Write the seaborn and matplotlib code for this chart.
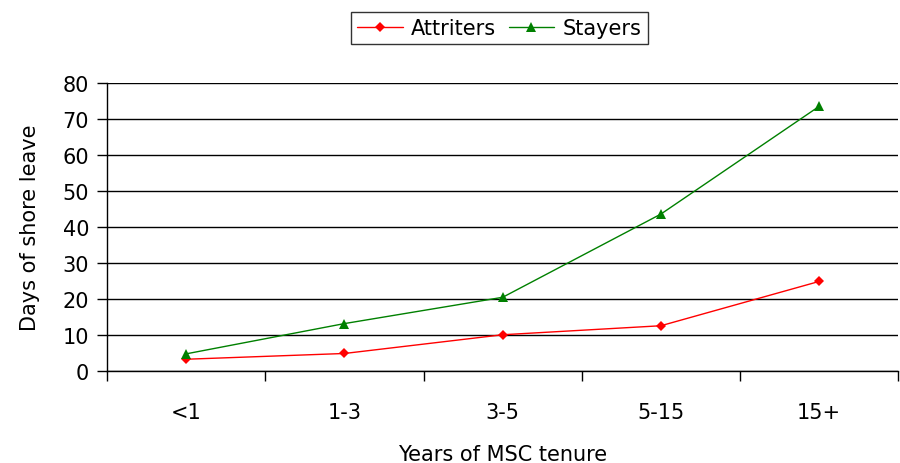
import matplotlib.pyplot as plt
import pandas as pd
import seaborn as sns
from matplotlib.ticker import FixedLocator

tenure = ["<1", "1-3", "3-5", "5-15", "15+"]
attriters = [3.3, 4.9, 10.1, 12.6, 24.9]
stayers = [4.8, 13.2, 20.5, 43.6, 73.5]


def main():
    data = pd.DataFrame(
        {
            "tenure": tenure * 2,
            "days": attriters + stayers,
            "group": ["Attriters"] * len(tenure) + ["Stayers"] * len(tenure),
        }
    )
    data["pos"] = data["tenure"].apply(lambda t: tenure.index(t))

    sns.set_style("white")
    plt.rcParams["font.family"] = ["DejaVu Sans"]
    plt.rcParams["text.color"] = "black"
    plt.rcParams["axes.labelcolor"] = "black"
    plt.rcParams["xtick.color"] = "black"
    plt.rcParams["ytick.color"] = "black"

    fig = plt.figure(figsize=(9, 4.64), dpi=100)
    ax = fig.add_axes([0.119, 0.198, 0.879, 0.621])

    ax.yaxis.grid(True, color="black", linewidth=1)
    ax.set_axisbelow(True)

    sns.lineplot(
        data,
        x="pos",
        y="days",
        hue="group",
        style="group",
        markers={"Attriters": "D", "Stayers": "^"},
        dashes=False,
        palette={"Attriters": "#ff0000", "Stayers": "#008000"},
        markersize=6,
        markeredgewidth=0,
        linewidth=1,
        ax=ax,
    )
    # triangles a bit bigger than diamonds
    for line in ax.lines:
        if line.get_marker() == "^":
            line.set_markersize(7.5)
        elif line.get_marker() == "D":
            line.set_markersize(5.5)

    ax.set_xlim(-0.5, 4.5)
    ax.set_ylim(0, 80)
    ax.set_yticks(range(0, 81, 10))
    ax.set_xticks(range(len(tenure)))
    ax.set_xticklabels(tenure)
    ax.xaxis.set_minor_locator(FixedLocator([i + 0.5 for i in range(-1, len(tenure))]))
    ax.tick_params(axis="x", which="major", length=0, pad=22, labelsize=15, bottom=True)
    ax.tick_params(axis="x", which="minor", length=7, width=1, direction="out", bottom=True)
    ax.tick_params(axis="y", length=7, width=1, direction="out", labelsize=15, left=True, pad=6)

    for side in ["top", "right"]:
        ax.spines[side].set_visible(False)
    for side in ["left", "bottom"]:
        ax.spines[side].set_color("black")
        ax.spines[side].set_linewidth(1)

    ax.set_xlabel("Years of MSC tenure", fontsize=15, labelpad=16)
    ax.set_ylabel("Days of shore leave", fontsize=15, labelpad=16)

    handles, labels = ax.get_legend_handles_labels()
    for h in handles:
        h.set_markersize(7.5 if h.get_marker() == "^" else 5.5)
    ax.legend(
        handles,
        labels,
        loc="center",
        bbox_to_anchor=(0.4956, 1.191),
        bbox_transform=ax.transAxes,
        ncol=2,
        frameon=True,
        fancybox=False,
        edgecolor="black",
        fontsize=15,
        handlelength=2.2,
        handletextpad=0.4,
        columnspacing=0.6,
        borderpad=0.3,
    )
    ax.get_legend().get_frame().set_linewidth(1)

    plt.savefig("out.png", dpi=100)
    plt.clf()


if __name__ == "__main__":
    main()
